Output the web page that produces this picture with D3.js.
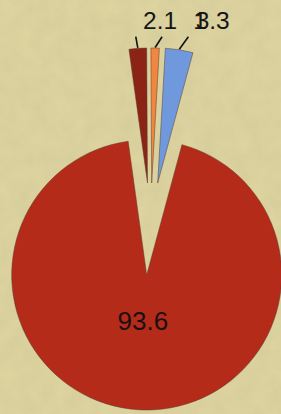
<!DOCTYPE html>
<html>
<head>
<meta charset="utf-8">
<script src="https://cdn.jsdelivr.net/npm/d3@7"></script>
<style>
  html, body { margin: 0; padding: 0; background: #ddd49f; }
  #pie-chart { width: 281px; height: 414px; overflow: hidden; }
</style>
</head>
<body>
<div id="pie-chart"></div>
<script>
// slice data, clockwise from the top
const categories = ["A", "B", "C", "D"];
const values = [2.1, 1.0, 3.3, 93.6];
const labels = ["2.1", "1", "3.3", "93.6"];

const drawPieChart = () => {
    const width = 281;
    const height = 414;
    const cx = 146.7;
    const cy = 275;
    const radius = 135;
    const colors = ["#8b2417", "#f08640", "#7099dd", "#b52b19"];
    // pulled-out slices (pixels)
    const explode = [[0.8, -92], [5, -92], [11, -92], [0, 0]];
    const startDeg = -7.9;

    const svg = d3.select("#pie-chart")
        .append("svg")
        .attr("width", width)
        .attr("height", height)
        .attr("viewBox", `0, 0, ${width}, ${height}`);

    // paper texture
    const defs = svg.append("defs");
    const tex = defs.append("filter")
        .attr("id", "paper")
        .attr("x", 0).attr("y", 0)
        .attr("width", "100%").attr("height", "100%");
    tex.append("feTurbulence")
        .attr("type", "fractalNoise")
        .attr("baseFrequency", 0.06)
        .attr("numOctaves", 3)
        .attr("seed", 4);
    tex.append("feColorMatrix")
        .attr("type", "matrix")
        .attr("values", "0 0 0 0 0.55  0 0 0 0 0.5  0 0 0 0 0.3  0 0 0 0.4 -0.06");
    tex.append("feComposite").attr("in2", "SourceGraphic").attr("operator", "in");

    svg.append("rect")
        .attr("width", width)
        .attr("height", height)
        .attr("fill", "#ddd49f");
    svg.append("rect")
        .attr("width", width)
        .attr("height", height)
        .attr("fill", "#ddd49f")
        .attr("filter", "url(#paper)");

    const data = categories.map((c, i) => ({ cat: c, value: values[i], label: labels[i], i: i }));

    const pie = d3.pie()
        .sort(null)
        .value(d => d.value)
        .startAngle(startDeg * Math.PI / 180)
        .endAngle(startDeg * Math.PI / 180 + 2 * Math.PI);

    const arcs = pie(data);

    const arc = d3.arc()
        .innerRadius(0)
        .outerRadius(radius);

    const innerChart = svg.append("g")
        .attr("transform", `translate(${cx}, ${cy})`);

    innerChart.selectAll("path.slice")
        .data(arcs)
        .join("path")
        .attr("class", "slice")
        .attr("transform", d => `translate(${explode[d.data.i][0]}, ${explode[d.data.i][1]})`)
        .attr("d", arc)
        .attr("fill", d => colors[d.data.i])
        .attr("stroke", "#5a3a2a")
        .attr("stroke-opacity", 0.55)
        .attr("stroke-width", 0.9)
        .attr("stroke-linejoin", "round");

    // leader lines for the small slices
    const small = arcs.filter(d => d.data.value < 10);
    const outerPt = d => {
        const a = (d.startAngle + d.endAngle) / 2;
        const [ex, ey] = explode[d.data.i];
        return [ex + Math.sin(a) * (radius + 0.5), ey - Math.cos(a) * (radius + 0.5)];
    };
    const railY = 36.7 - cy;
    const railX0 = outerPt(small[0])[0] - 2;
    const railStep = 26.3;

    const ends = small.map((d, k) => [railX0 + k * railStep, railY]);

    innerChart.selectAll("line.leader")
        .data(small)
        .join("line")
        .attr("class", "leader")
        .attr("x1", d => outerPt(d)[0])
        .attr("y1", d => outerPt(d)[1])
        .attr("x2", (d, k) => ends[k][0])
        .attr("y2", (d, k) => ends[k][1])
        .attr("stroke", "#111")
        .attr("stroke-width", 1.6);

    // labels sit right of the line end; a crowded one gets pushed along
    const labelNudge = [0, 24, 0];
    innerChart.selectAll("text.small-label")
        .data(small)
        .join("text")
        .attr("class", "small-label")
        .attr("x", (d, k) => ends[k][0] + 7.3 + labelNudge[k])
        .attr("y", railY - 7.7)
        .attr("font-family", "'Liberation Sans', Arial, sans-serif")
        .attr("font-size", 24.5)
        .attr("fill", "#151515")
        .text(d => d.data.label);

    // big slice label
    const labelArc = d3.arc().innerRadius(46).outerRadius(46);
    const big = arcs.filter(d => d.data.value >= 10);
    innerChart.selectAll("text.big-label")
        .data(big)
        .join("text")
        .attr("class", "big-label")
        .attr("x", d => labelArc.centroid(d)[0] - 1)
        .attr("y", d => labelArc.centroid(d)[1] + 9)
        .attr("text-anchor", "middle")
        .attr("font-family", "'Liberation Sans', Arial, sans-serif")
        .attr("font-size", 26)
        .attr("fill", "#1a1010")
        .text(d => d.data.label);
};

drawPieChart();
</script>
</body>
</html>
